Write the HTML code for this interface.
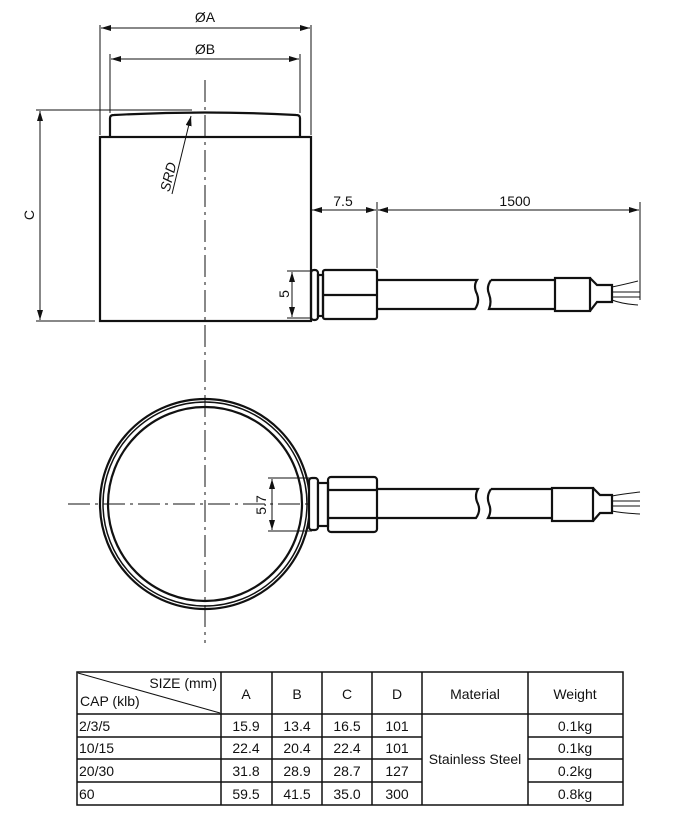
<!DOCTYPE html>
<html><head><style>
html,body{margin:0;padding:0;background:#fff;}
svg{display:block;font-family:"Liberation Sans",sans-serif;}
</style></head><body>
<svg width="680" height="815" viewBox="0 0 680 815" xmlns="http://www.w3.org/2000/svg">
<defs>
<marker id="ar" viewBox="0 0 10 6" refX="10" refY="3" markerWidth="10" markerHeight="6" orient="auto-start-reverse" markerUnits="userSpaceOnUse"><path d="M0,0 L10,3 L0,6 Z" fill="#111"/></marker>
</defs>
<g stroke="#111" fill="none">
<g stroke-width="1">
<line x1="100" y1="25" x2="100" y2="135"/>
<line x1="311" y1="25" x2="311" y2="135"/>
<line x1="110" y1="54" x2="110" y2="113"/>
<line x1="300" y1="54" x2="300" y2="113"/>
<line x1="101" y1="28" x2="310" y2="28" marker-start="url(#ar)" marker-end="url(#ar)"/>
<line x1="111" y1="59" x2="299" y2="59" marker-start="url(#ar)" marker-end="url(#ar)"/>
<line x1="36" y1="110" x2="192" y2="110"/>
<line x1="36" y1="321" x2="95" y2="321"/>
<line x1="40" y1="111" x2="40" y2="320" marker-start="url(#ar)" marker-end="url(#ar)"/>
<line x1="377" y1="202" x2="377" y2="268"/>
<line x1="640" y1="202" x2="640" y2="300"/>
<line x1="312" y1="210" x2="376" y2="210" marker-start="url(#ar)" marker-end="url(#ar)"/>
<line x1="378" y1="210" x2="639" y2="210" marker-start="url(#ar)" marker-end="url(#ar)"/>
<line x1="287" y1="271" x2="312" y2="271"/>
<line x1="287" y1="318" x2="312" y2="318"/>
<line x1="292" y1="272" x2="292" y2="317" marker-start="url(#ar)" marker-end="url(#ar)"/>
<line x1="172" y1="194" x2="191" y2="116" marker-end="url(#ar)"/>
</g>
<line x1="205" y1="80" x2="205" y2="643" stroke-width="1" stroke-dasharray="22,5,3,5"/>
<line x1="68" y1="504" x2="322" y2="504" stroke-width="1" stroke-dasharray="22,5,3,5"/>
<g stroke-width="2.2">
<path d="M110,136 L110,118 Q110,115 114,115 Q205,110 296,115 Q300,115 300,118 L300,136"/>
<rect x="100" y="137" width="211" height="184"/>
<rect x="311" y="270" width="7" height="50" rx="3"/>
<rect x="318" y="275" width="5" height="41"/>
<rect x="323" y="270" width="54" height="49" rx="2"/>
<line x1="323" y1="295" x2="377" y2="295"/>
<path d="M377,280 L477,280 Q473,286 477,294 Q480,302 475,309 L377,309"/>
<path d="M491,280 L555,280 M555,309 L489,309 Q492,302 489,294 Q486,287 491,280"/>
<rect x="555" y="278" width="35" height="33"/>
<path d="M590,278 L597,285 L612,285 L612,302 L597,302 L590,311"/>
</g>
<g stroke-width="1">
<path d="M612,287 Q622,285 638,281 M612,292 L640,292 M612,297 L640,297 M612,300 Q622,304 638,305"/>
</g>
<g stroke-width="2.2">
<circle cx="205" cy="504" r="105"/>
<circle cx="205" cy="504" r="102" stroke-width="1.5"/>
<circle cx="205" cy="504" r="97"/>
<rect x="309" y="478" width="9" height="52" rx="3" fill="#fff"/>
<rect x="318" y="483" width="10" height="43" fill="#fff"/>
<rect x="328" y="477" width="49" height="55" rx="3"/>
<line x1="328" y1="490" x2="377" y2="490"/>
<line x1="328" y1="518" x2="377" y2="518"/>
<path d="M377,489 L478,489 Q474,496 478,504 Q481,511 476,518 L377,518"/>
<path d="M491,489 L552,489 M552,518 L488,518 Q492,511 489,504 Q486,496 491,489"/>
<rect x="552" y="488" width="41" height="33"/>
<path d="M593,488 L600,495 L612,495 L612,513 L600,513 L593,521"/>
</g>
<g stroke-width="1">
<path d="M612,496 Q622,494 640,492 M612,501 L640,501 M612,506 L640,506 M612,511 Q622,513 640,514"/>
<line x1="268" y1="478" x2="312" y2="478"/>
<line x1="268" y1="531" x2="312" y2="531"/>
<line x1="272" y1="479" x2="272" y2="530" marker-start="url(#ar)" marker-end="url(#ar)"/>
</g>
</g>
<g fill="#111" font-size="14">
<text x="205" y="22" text-anchor="middle">ØA</text>
<text x="205" y="54" text-anchor="middle">ØB</text>
<text x="343" y="206" text-anchor="middle">7.5</text>
<text x="515" y="206" text-anchor="middle">1500</text>
<text transform="translate(34,215) rotate(-90)" text-anchor="middle">C</text>
<text transform="translate(289,294) rotate(-90)" text-anchor="middle">5</text>
<text transform="translate(266,505) rotate(-90)" text-anchor="middle">5.7</text>
<text transform="translate(173,178) rotate(-76)" text-anchor="middle" font-style="italic">SRD</text>
</g>
<g stroke="#111" stroke-width="1.5" fill="none">
<rect x="77" y="672" width="546" height="133"/>
<line x1="221" y1="672" x2="221" y2="805"/>
<line x1="272" y1="672" x2="272" y2="805"/>
<line x1="322" y1="672" x2="322" y2="805"/>
<line x1="372" y1="672" x2="372" y2="805"/>
<line x1="422" y1="672" x2="422" y2="805"/>
<line x1="528" y1="672" x2="528" y2="805"/>
<line x1="77" y1="714" x2="623" y2="714"/>
<line x1="77" y1="737" x2="422" y2="737"/>
<line x1="77" y1="759" x2="422" y2="759"/>
<line x1="77" y1="782" x2="422" y2="782"/>
<line x1="528" y1="737" x2="623" y2="737"/>
<line x1="528" y1="759" x2="623" y2="759"/>
<line x1="528" y1="782" x2="623" y2="782"/>
<line x1="78" y1="673" x2="220" y2="713" stroke-width="1"/>
</g>
<g fill="#111" font-size="14" text-anchor="middle">
<text x="217" y="688" text-anchor="end">SIZE (mm)</text>
<text x="80" y="706" text-anchor="start">CAP (klb)</text>
<text x="246" y="699">A</text><text x="297" y="699">B</text><text x="347" y="699">C</text><text x="397" y="699">D</text>
<text x="475" y="699">Material</text><text x="575" y="699">Weight</text>
<text x="79" y="731" text-anchor="start">2/3/5</text>
<text x="79" y="753" text-anchor="start">10/15</text>
<text x="79" y="776" text-anchor="start">20/30</text>
<text x="79" y="799" text-anchor="start">60</text>
<text x="246" y="731">15.9</text><text x="297" y="731">13.4</text><text x="347" y="731">16.5</text><text x="397" y="731">101</text>
<text x="246" y="753">22.4</text><text x="297" y="753">20.4</text><text x="347" y="753">22.4</text><text x="397" y="753">101</text>
<text x="246" y="776">31.8</text><text x="297" y="776">28.9</text><text x="347" y="776">28.7</text><text x="397" y="776">127</text>
<text x="246" y="799">59.5</text><text x="297" y="799">41.5</text><text x="347" y="799">35.0</text><text x="397" y="799">300</text>
<text x="475" y="764">Stainless Steel</text>
<text x="575" y="731">0.1kg</text><text x="575" y="753">0.1kg</text><text x="575" y="776">0.2kg</text><text x="575" y="799">0.8kg</text>
</g>
</svg>
</body></html>
